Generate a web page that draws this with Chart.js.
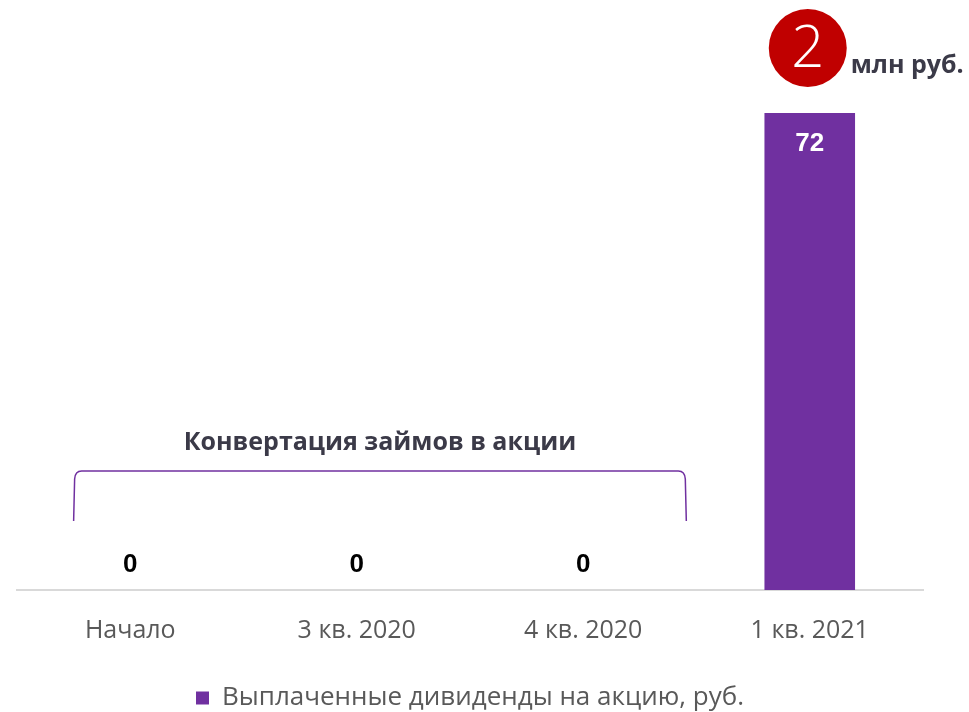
<!DOCTYPE html>
<html>
<head>
<meta charset="utf-8">
<script src="https://cdn.jsdelivr.net/npm/chart.js@4"></script>
<style>
  html, body { margin: 0; padding: 0; background: #fff; }
  #wrap { width: 969px; height: 712px; }
</style>
</head>
<body>
<div id="wrap"><canvas id="chart"></canvas></div>
<script>
const categories = ["Начало", "3 кв. 2020", "4 кв. 2020", "1 кв. 2021"]
const dividends = [0, 0, 0, 72]
const seriesLabel = "Выплаченные дивиденды на акцию, руб."
const bracketText = "Конвертация займов в акции"
const badgeNumber = "2"
const badgeUnit = "млн руб."

const purple = "#7030A0"

// value labels: above zero bars, inside the top of real bars
const valueLabels = {
    id: "valueLabels",
    afterDatasetsDraw(chart) {
        const ctx = chart.ctx
        const meta = chart.getDatasetMeta(0)
        ctx.save()
        ctx.textAlign = "center"
        ctx.textBaseline = "middle"
        ctx.font = "bold 26px 'Liberation Sans'"
        meta.data.forEach((bar, i) => {
            const v = dividends[i]
            if (v === 0) {
                ctx.fillStyle = "#000"
                ctx.fillText(String(v), bar.x, bar.y - 25)
            } else {
                ctx.fillStyle = "#fff"
                ctx.fillText(String(v), bar.x, bar.y + 31)
            }
        })
        ctx.restore()
    }
}

// bracket over the first three quarters + the red badge on top
const annotations = {
    id: "annotations",
    afterDraw(chart) {
        const ctx = chart.ctx
        const x = chart.scales.x
        const step = x.getPixelForValue(1) - x.getPixelForValue(0)
        const left = x.getPixelForValue(0) - step * 0.25
        const right = x.getPixelForValue(2) + step * 0.455
        const top = 471
        const bottom = 521
        ctx.save()
        ctx.strokeStyle = purple
        ctx.lineWidth = 1.5
        ctx.beginPath()
        ctx.moveTo(left, bottom)
        ctx.lineTo(left + 1, top + 8)
        ctx.quadraticCurveTo(left + 1.5, top, left + 8, top)
        ctx.lineTo(right - 8, top)
        ctx.quadraticCurveTo(right - 1.5, top, right - 1, top + 8)
        ctx.lineTo(right, bottom)
        ctx.stroke()

        ctx.fillStyle = "#3b3a48"
        ctx.font = "bold 25px 'Open Sans'"
        ctx.textAlign = "center"
        ctx.textBaseline = "middle"
        ctx.fillText(bracketText, (left + right) / 2, 443)

        // badge
        const bar = chart.getDatasetMeta(0).data[3]
        const cx = bar.x - 2
        const cy = 48
        ctx.fillStyle = "#C00000"
        ctx.beginPath()
        ctx.arc(cx, cy, 39, 0, Math.PI * 2)
        ctx.fill()
        ctx.fillStyle = "#fff"
        ctx.font = "300 58px 'Open Sans'"
        ctx.fillText(badgeNumber, cx, cy + 2)
        ctx.fillStyle = "#3b3a48"
        ctx.font = "bold 25px 'Open Sans'"
        ctx.textAlign = "left"
        ctx.fillText(badgeUnit, cx + 43, 66)
        ctx.restore()
    }
}

new Chart(document.getElementById("chart"), {
    type: "bar",
    data: {
        labels: categories,
        datasets: [{
            label: seriesLabel,
            data: dividends,
            backgroundColor: purple,
            barPercentage: 0.8,
            categoryPercentage: 0.5
        }]
    },
    options: {
        responsive: true,
        maintainAspectRatio: false,
        animation: false,
        layout: { padding: { top: 113, left: 17, right: 46, bottom: -9 } },
        scales: {
            x: {
                grid: { display: false },
                border: { display: true, color: "#d9d9d9", width: 2 },
                ticks: {
                    color: "#595959",
                    font: { family: "'Open Sans'", size: 25 },
                    padding: 18
                }
            },
            y: {
                display: false,
                min: 0,
                max: 72
            }
        },
        plugins: {
            legend: {
                position: "bottom",
                labels: {
                    color: "#595959",
                    font: { family: "'Open Sans'", size: 26 },
                    boxWidth: 13,
                    boxHeight: 13,
                    padding: 21
                }
            },
            tooltip: { enabled: false }
        }
    },
    plugins: [valueLabels, annotations]
})
</script>
</body>
</html>
